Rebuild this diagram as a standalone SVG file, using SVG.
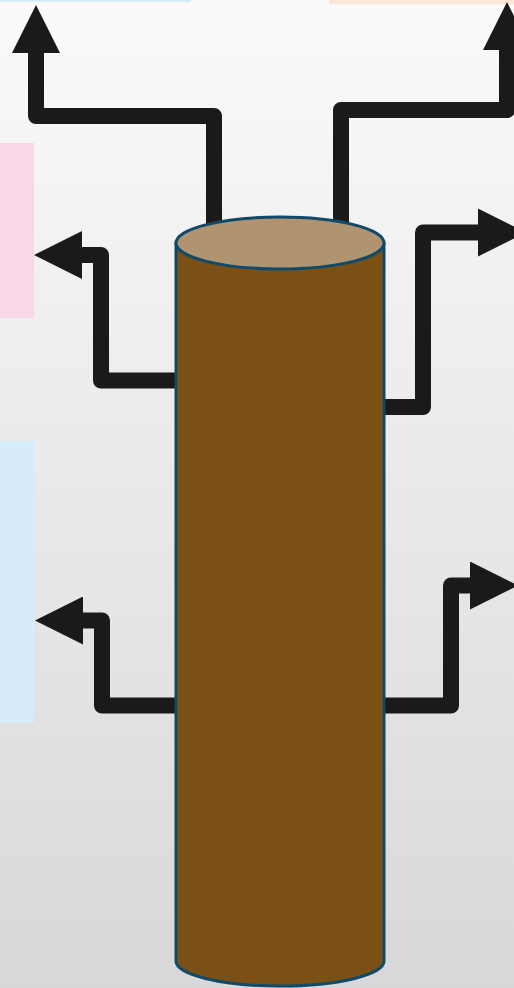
<svg xmlns="http://www.w3.org/2000/svg" width="514" height="988" viewBox="0 0 514 988">
  <defs>
    <linearGradient id="bg" x1="0" y1="0" x2="0" y2="1">
      <stop offset="0" stop-color="#fafafa"/>
      <stop offset="1" stop-color="#d8d8d8"/>
    </linearGradient>
    <marker id="head" viewBox="0 0 48 48" refX="0" refY="24" markerWidth="48" markerHeight="48" markerUnits="userSpaceOnUse" orient="auto">
      <path d="M0,0 L48,24 L0,48 Z" fill="#1a1a1a"/>
    </marker>
    <style>
      .conn { fill: none; stroke: #1a1a1a; stroke-width: 16; stroke-linejoin: round; stroke-linecap: butt; marker-end: url(#head); }
      .cyl { stroke: #0f4a6b; stroke-width: 3; }
    </style>
  </defs>
  <rect width="514" height="988" fill="url(#bg)"/>
  <g id="panels">
    <rect id="panel-top-left" x="0" y="0" width="191" height="2" fill="#d6ecfa"/>
    <rect id="panel-top-right" x="329" y="0" width="185" height="4.5" fill="#fbe9d6"/>
    <rect id="panel-left-pink" x="0" y="143" width="34" height="175" fill="#f8d8e8"/>
    <rect id="panel-left-blue" x="0" y="441" width="34" height="282" fill="#d6ecfa"/>
  </g>
  <g id="connectors">
    <path class="conn" d="M214,240 V116 H36 V53"/>
    <path class="conn" d="M341,240 V110 H507 V50"/>
    <path class="conn" d="M190,380.5 H101 V255 H82"/>
    <path class="conn" d="M370,407 H423 V232.5 H478"/>
    <path class="conn" d="M190,705.5 H102 V620.5 H83"/>
    <path class="conn" d="M370,705.5 H451 V585.5 H470"/>
  </g>
  <g id="cylinder">
    <path class="cyl" d="M176,243 V961 A104,25 0 0 0 384,961 V243 Z" fill="#7a5015"/>
    <ellipse class="cyl" cx="280" cy="243" rx="104" ry="26" fill="#b09472"/>
  </g>
</svg>
